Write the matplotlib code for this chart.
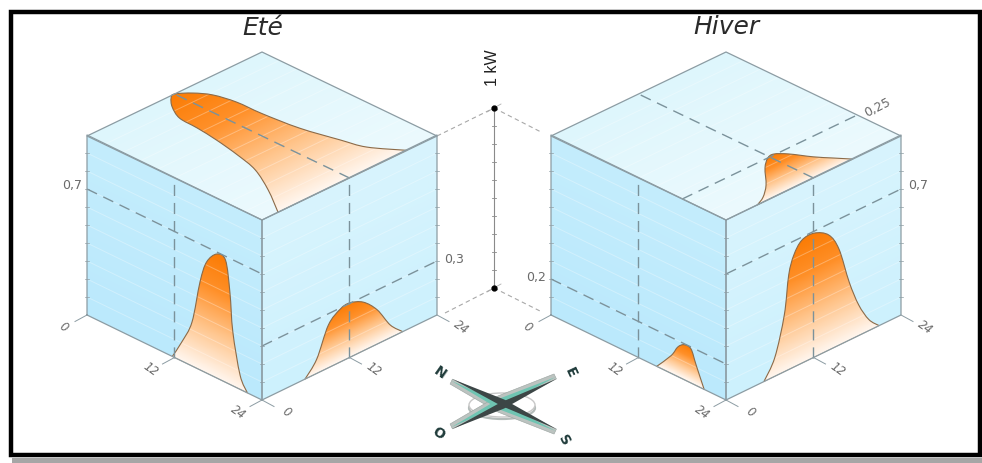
import numpy as np
import matplotlib
matplotlib.use('Agg')
import matplotlib.pyplot as plt
from matplotlib.colors import LinearSegmentedColormap
from matplotlib.patches import Ellipse, PathPatch, Polygon, Rectangle
from matplotlib.path import Path

plt.rcParams['font.family'] = ['DejaVu Sans']

# profiles: hour of day, power in kW
ete_ouest_h = [11.7, 13.0, 14.4, 15.5, 16.4, 17.8, 19.0, 19.6, 20.0, 21.0, 22.0]
ete_ouest_kw = [0.0, 0.106, 0.244, 0.489, 0.617, 0.689, 0.678, 0.511, 0.30, 0.078, 0.0]
ete_est_h = [5.9, 7.5, 9.1, 10.7, 12.0, 13.9, 15.8, 17.6, 19.3]
ete_est_kw = [0.0, 0.079, 0.237, 0.293, 0.303, 0.27, 0.19, 0.07, 0.0]
ete_toit_h = [2.2, 4.7, 6.7, 7.6, 8.3, 8.7, 8.9, 10.0, 11.2, 12.0, 13.4, 14.5, 15.1, 15.2, 15.7, 16.8, 17.6, 19.9]
ete_toit_kw = [0.0, 0.16, 0.318, 0.455, 0.605, 0.733, 0.842, 0.93, 0.986, 1.0, 0.953, 0.884, 0.774, 0.634, 0.439, 0.253, 0.135, 0.0]

hiver_ouest_h = [14.5, 16.5, 17.4, 18.3, 19.2, 19.9, 21.0]
hiver_ouest_kw = [0.0, 0.10, 0.165, 0.195, 0.189, 0.114, 0.0]
hiver_est_h = [5.2, 6.7, 8.0, 8.6, 9.3, 10.4, 12.1, 14.1, 15.5, 16.9, 18.2, 19.6, 21.0]
hiver_est_kw = [0.0, 0.105, 0.316, 0.525, 0.622, 0.683, 0.689, 0.639, 0.533, 0.322, 0.17, 0.061, 0.0]
hiver_toit_h = [4.3, 5.8, 7.75, 10.1, 11.7, 12.7, 13.75, 15.0, 16.2, 17.4]
hiver_toit_kw = [0.0, 0.03, 0.094, 0.198, 0.249, 0.256, 0.213, 0.127, 0.063, 0.0]

heures = [0, 12, 24]
titres = ['Eté', 'Hiver']

orange = LinearSegmentedColormap.from_list(
    'o', [(0, '#fff6ee'), (0.35, '#ffc68e'), (0.7, '#ff9029'), (1, '#fb7c05')])
bleu_ouest = LinearSegmentedColormap.from_list('bo', ['#bbe9fc', '#c4edfd'])
bleu_est = LinearSegmentedColormap.from_list('be', ['#cdf1fd', '#d8f4fd'])
bleu_toit = LinearSegmentedColormap.from_list('bt', ['#ecfafe', '#def6fc'])

EDGE = '#8c9ca3'
DASH = '#7b929b'
LABEL = '#6a6a6a'

fig = plt.figure(figsize=(9.82, 4.63), dpi=100)
ax = fig.add_axes([0, 0, 1, 1])
ax.axis('off')


class Face:
    # a cube face: origin, hour direction (for 24 h), power direction (for 1 kW)
    def __init__(self, o, eh, ev):
        self.o = np.array(o, float)
        self.eh = np.array(eh, float)
        self.ev = np.array(ev, float)

    def xy(self, h, v):
        h = np.asarray(h, float)
        v = np.asarray(v, float)
        return (self.o[0] + h / 24 * self.eh[0] + v * self.ev[0],
                self.o[1] + h / 24 * self.eh[1] + v * self.ev[1])

    def power_at(self, X, Y):
        m = np.linalg.inv(np.column_stack([self.eh, self.ev]))
        return m[1, 0] * (X - self.o[0]) + m[1, 1] * (Y - self.o[1])


def smooth(x, y):
    # open curve through the points (catmull-rom as bezier segments)
    pts = np.column_stack([x, y])
    verts = [pts[0]]
    codes = [Path.MOVETO]
    for i in range(len(pts) - 1):
        p0 = pts[max(i - 1, 0)]
        p1 = pts[i]
        p2 = pts[i + 1]
        p3 = pts[min(i + 2, len(pts) - 1)]
        verts += [p1 + (p2 - p0) / 6, p2 - (p3 - p1) / 6, p2]
        codes += [Path.CURVE4] * 3
    return verts, codes


def gradient(face, path, cmap, vmax, z):
    x0, y0 = path.vertices.min(axis=0)
    x1, y1 = path.vertices.max(axis=0)
    X, Y = np.meshgrid(np.arange(x0 - 1, x1 + 2), np.arange(y0 - 1, y1 + 2))
    V = np.clip(face.power_at(X, Y) / vmax, 0, 1)
    im = ax.imshow(V, cmap=cmap, vmin=0, vmax=1, extent=(x0 - 1, x1 + 1, y1 + 1, y0 - 1),
                   aspect='auto', interpolation='bilinear', zorder=z)
    im.set_clip_path(PathPatch(path, transform=ax.transData))


def draw_face(face, cmap):
    x, y = face.xy([0, 24, 24, 0, 0], [0, 0, 1, 1, 0])
    path = Path(np.column_stack([x, y]), closed=True)
    gradient(face, path, cmap, 1.0, 1)
    return x, y


def draw_grid(face):
    for v in np.arange(0.1, 0.95, 0.1):
        x, y = face.xy([0, 24], [v, v])
        ax.plot(x, y, color='white', lw=0.7, alpha=0.3, zorder=4)


def draw_profile(face, h, kw):
    x, y = face.xy(h, kw)
    verts, codes = smooth(x, y)
    path = Path(verts + [verts[0]], codes + [Path.LINETO])
    gradient(face, path, orange, max(kw), 3)
    ax.add_patch(PathPatch(Path(verts, codes), fc='none', ec='#8b6a48', lw=0.8, zorder=5))
    ax.plot([x[0], x[-1]], [y[0], y[-1]], color='#c8a888', lw=0.6, zorder=5)


def dashed(x, y, color=DASH, lw=1.0, dash=(8, 5)):
    ax.plot(x, y, color=color, lw=lw, dashes=dash, zorder=6)


def edge_ticks(face, side):
    for v in np.arange(0.1, 0.95, 0.1):
        x, y = face.xy(side, v)
        ax.plot([x - 2, x + 2], [y, y], color=EDGE, lw=0.5, zorder=6)


def cube(dx, west, east, roof, titre, tx, ty):
    ouest = Face((87 + dx, 315), (175, 85), (0, -180))
    est = Face((262 + dx, 400), (175, -85), (0, -180))
    toit = Face((262 + dx, 220), (175, -84), (-175, -84))

    draw_face(ouest, bleu_ouest)
    draw_face(est, bleu_est)
    draw_face(toit, bleu_toit)
    draw_profile(ouest, *west)
    draw_profile(est, *east)
    draw_profile(toit, *roof)
    for f in (ouest, est, toit):
        draw_grid(f)

    # 12 h lines on both walls and on the roof
    for f in (ouest, est):
        x, y = f.xy([12, 12], [0, 1])
        dashed(x, y)
    x, y = toit.xy([12, 12], [0, 1])
    dashed(x, y)

    # outline
    for f in (ouest, est, toit):
        x, y = f.xy([0, 24, 24, 0, 0], [0, 0, 1, 1, 0])
        ax.plot(x, y, color=EDGE, lw=0.9, zorder=7, solid_joinstyle='round')
    edge_ticks(ouest, 0)
    edge_ticks(est, 0)
    edge_ticks(est, 24)

    # hour ticks and labels under the walls
    for h, lab in zip(heures, heures):
        x, y = ouest.xy(h, 0)
        ax.plot([x, x - 12], [y, y + 6.5], color=EDGE, lw=0.7, zorder=6)
        ax.text(x - 24, y + 12, str(lab), rotation=-35, ha='center', va='center',
                style='italic', fontsize=8.5, color=LABEL)
        x, y = est.xy(h, 0)
        ax.plot([x, x + 12], [y, y + 6.5], color=EDGE, lw=0.7, zorder=6)
        ax.text(x + 24, y + 12, str(lab), rotation=-35, ha='center', va='center',
                style='italic', fontsize=8.5, color=LABEL)

    ax.text(tx, ty, titre, ha='center', va='center', style='italic', fontsize=18, color='#2a2a2a')
    return ouest, est, toit


ouest1, est1, toit1 = cube(0, (ete_ouest_h, ete_ouest_kw), (ete_est_h, ete_est_kw),
                           (ete_toit_h, ete_toit_kw), titres[0], 263, 28)
ouest2, est2, toit2 = cube(464, (hiver_ouest_h, hiver_ouest_kw), (hiver_est_h, hiver_est_kw),
                           (hiver_toit_h, hiver_toit_kw), titres[1], 726, 27)

# peak power lines with their values
x, y = ouest1.xy([0, 24], [0.7, 0.7])
dashed(x, y)
ax.text(x[0] - 15, y[0] - 3, '0,7', ha='center', va='center', fontsize=9, color=LABEL)
x, y = est1.xy([0, 24], [0.3, 0.3])
dashed(x, y)
ax.text(x[1] + 17, y[1] - 1, '0,3', ha='center', va='center', fontsize=9, color=LABEL)
x, y = ouest2.xy([0, 24], [0.2, 0.2])
dashed(x, y)
ax.text(x[0] - 15, y[0] - 2, '0,2', ha='center', va='center', fontsize=9, color=LABEL)
x, y = est2.xy([0, 24], [0.7, 0.7])
dashed(x, y)
ax.text(x[1] + 17, y[1] - 4, '0,7', ha='center', va='center', fontsize=9, color=LABEL)
x, y = toit2.xy([0, 24], [0.25, 0.25])
dashed(x, y)
ax.text(x[1] + 20, y[1] - 7, '0,25', ha='center', va='center', rotation=27, fontsize=9, color=LABEL)

# scale of 1 kW between the cubes
sx = 494
sy_bas = 288
sy_haut = 108
ax.plot([sx, sx], [sy_haut, sy_bas], color='#8a8a8a', lw=0.8, zorder=3)
for t in np.linspace(sy_haut, sy_bas, 11)[1:-1]:
    ax.plot([sx - 2, sx + 2], [t, t], color='#8a8a8a', lw=0.6, zorder=3)
for sy, lx, ly, rx, ry in [(sy_haut, 437, 136, 541, 132), (sy_bas, 445, 313, 542, 312)]:
    dashed([lx, sx], [ly, sy], color='#a8a8a8', lw=0.8, dash=(4, 3))
    dashed([sx, rx], [sy, ry], color='#a8a8a8', lw=0.8, dash=(4, 3))
    ax.plot([sx - 7, sx + 7], [sy + 4, sy - 4], color='#b0b0b0', lw=0.6, zorder=3)
    ax.plot(sx, sy, 'o', color='black', ms=3.5, zorder=8)
ax.text(493, 68, '1 kW', rotation=90, ha='center', va='center', fontsize=11.5,
        family='Liberation Sans', color='#202020')

# compass
cx, cy = 502, 404
ax.add_patch(Ellipse((cx, cy + 4), 66, 22, fc='none', ec='#b4bcba', lw=1.6, zorder=2))
ax.add_patch(Ellipse((cx, cy + 1), 66, 24, fc='white', ec='#c8c8c8', lw=1.0, zorder=2))
branches = [((452, 380), (556, 430), 1), ((452, 428), (556, 378), -1)]
for p, q, s in branches:
    p = np.array(p, float)
    q = np.array(q, float)
    c = np.array([cx, cy], float)
    d = (q - p) / np.linalg.norm(q - p)
    n = np.array([-d[1], d[0]]) * s
    # grey outer band, teal inner band, dark core
    ax.add_patch(Polygon([p + n * 4.5, p - n * 1, c - n * 2, q - n * 1, q + n * 4.5, c + n * 9],
                         fc='#bcc3c0', ec='#9aa3a0', lw=0.4, zorder=3))
    ax.add_patch(Polygon([p + n * 1, c + n * 6, q + n * 1, c - n * 1], fc='#6fc4b2', ec='none', zorder=4))
    ax.add_patch(Polygon([p - n * 1, c - n * 5, q - n * 1, c + n * 2], fc='#3c4646', ec='none', zorder=5))
for lab, lx, ly, rot in [('N', 440, 373, -35), ('E', 570, 373, -65), ('O', 438, 434, -30), ('S', 564, 440, -60)]:
    ax.text(lx, ly, lab, rotation=rot, ha='center', va='center', fontweight='bold',
            fontsize=10, color='#1f3b3a', zorder=5)

# black frame with its shadow
ax.add_patch(Rectangle((12, 458), 970, 5, fc='#a6a6a6', ec='none', zorder=0))
ax.add_patch(Rectangle((11, 12), 969, 443, fc='none', ec='black', lw=3.2, zorder=9))

ax.set_xlim(0, 982)
ax.set_ylim(463, 0)
fig.savefig('out.png', dpi=100, facecolor='white')
